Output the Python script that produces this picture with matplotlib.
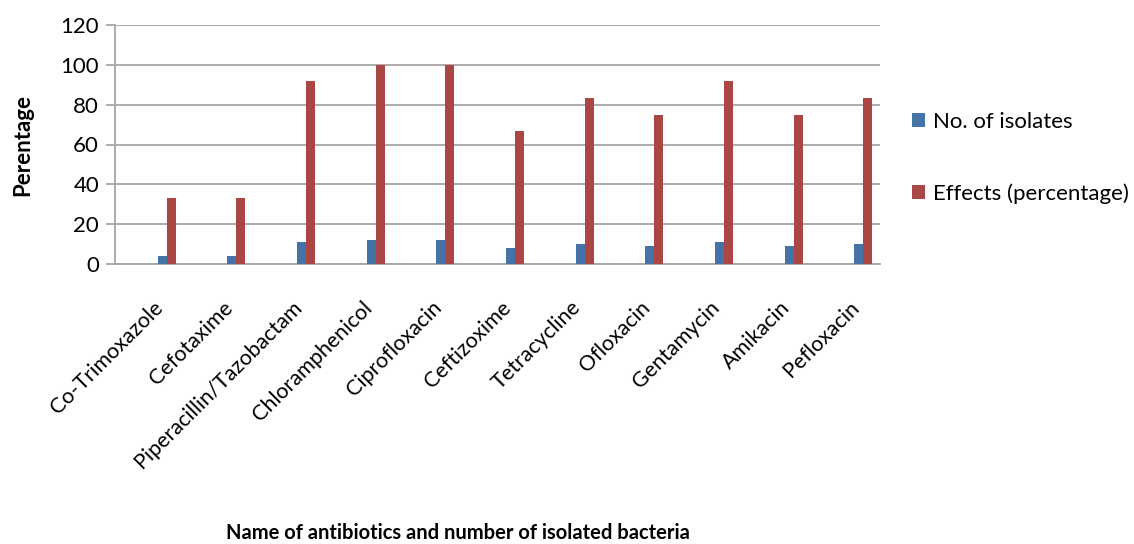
import numpy as np
import matplotlib.pyplot as plt
import matplotlib.transforms as mtransforms

# data
antibiotics = ["Co-Trimoxazole", "Cefotaxime", "Piperacillin/Tazobactam",
               "Chloramphenicol", "Ciprofloxacin", "Ceftizoxime", "Tetracycline",
               "Ofloxacin", "Gentamycin", "Amikacin", "Pefloxacin"]
isolates = [4, 4, 11, 12, 12, 8, 10, 9, 11, 9, 10]
effects = [33.3, 33.3, 91.7, 100, 100, 66.7, 83.3, 75, 91.7, 75, 83.3]
yticks = [0, 20, 40, 60, 80, 100, 120]

plt.rcParams['font.family'] = ['Lato', 'DejaVu Sans']
grid_col = "#A6A6A6"

fig = plt.figure(figsize=(11.34, 5.44), dpi=100)
ax = fig.add_axes([115 / 1134, 1 - 264 / 544, 765 / 1134, 239 / 544])

x = np.arange(len(antibiotics))
w = 0.13
ax.bar(x - w / 2, isolates, w, color="#4572A7", label="No. of isolates", zorder=3)
ax.bar(x + w / 2, effects, w, color="#AA4643", label="Effects (percentage)", zorder=3)

ax.set_xlim(-0.742, 10.24)
ax.set_ylim(0, 120)
ax.set_yticks(yticks)
ax.set_yticklabels([str(v) for v in yticks], fontsize=16)
ax.yaxis.grid(True, color=grid_col, linewidth=1.3, zorder=0)

ax.set_xticks(x)
ax.set_xticklabels(antibiotics, rotation=45, ha="right", fontsize=15.5)
offset = mtransforms.ScaledTranslation(-23 / 100, 0, fig.dpi_scale_trans)
for lbl in ax.get_xticklabels():
    lbl.set_transform(lbl.get_transform() + offset)
ax.tick_params(axis="x", length=0, pad=24)
ax.tick_params(axis="y", length=6.5, width=1.3, color=grid_col, pad=5)

for side in ["top", "right"]:
    ax.spines[side].set_visible(False)
ax.spines["left"].set_color(grid_col)
ax.spines["bottom"].set_color(grid_col)
ax.spines["left"].set_linewidth(1.3)
ax.spines["bottom"].set_linewidth(1.3)

ax.set_ylabel("Perentage", fontsize=16, fontweight="bold", va="center")
ax.yaxis.set_label_coords(-0.12, 0.5)
fig.text(458 / 1134, 1 - 533 / 544, "Name of antibiotics and number of isolated bacteria",
         ha="center", va="center", fontsize=14.5, fontweight="bold")

ax.legend(loc="center left", bbox_to_anchor=(892 / 1134, 1 - 158 / 544),
          bbox_transform=fig.transFigure, frameon=False, fontsize=16,
          handlelength=0.6, handleheight=0.6, handletextpad=0.35, labelspacing=2.3)

fig.savefig("out.png", dpi=100)
